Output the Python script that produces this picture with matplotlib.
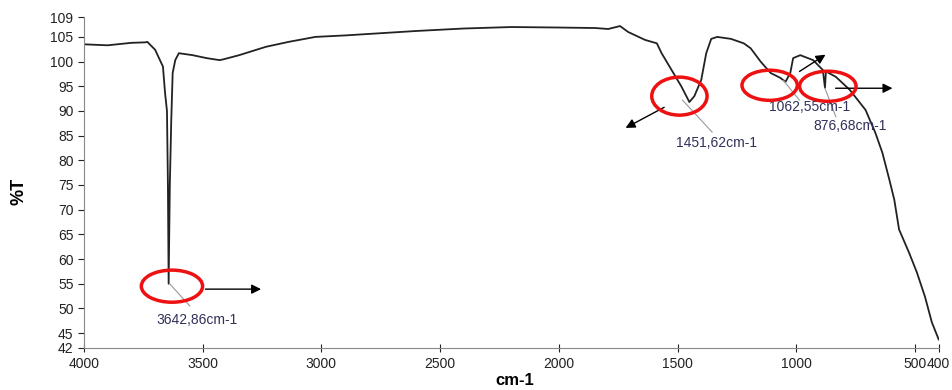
import matplotlib.pyplot as plt
from matplotlib.patches import Ellipse

# ── Spectrum ──────────────────────────────────────────────────────────────────

wavenumber = [4000, 3900, 3800, 3740, 3733, 3700, 3667, 3658, 3650, 3646, 3643,
              3638, 3632, 3626, 3615, 3600, 3542, 3483, 3429, 3417, 3346, 3233,
              3137, 3025, 2900, 2800, 2600, 2400, 2200, 2000, 1846, 1792, 1742,
              1708, 1637, 1587, 1567, 1525, 1483, 1450, 1429, 1400, 1379, 1358,
              1333, 1275, 1221, 1192, 1150, 1108, 1067, 1045, 1025, 1013, 983,
              929, 888, 879, 875, 833, 775, 708, 667, 637, 608, 587, 567, 525,
              492, 458, 429, 400]
transmittance = [103.5, 103.3, 103.8, 103.9, 104.0, 102.4, 99.0, 93.6, 90.0, 75.0, 55.0,
                 75.0, 88.0, 97.7, 100.3, 101.7, 101.3, 100.7, 100.3, 100.4, 101.3, 103.0,
                 104.0, 105.0, 105.3, 105.6, 106.2, 106.7, 107.0, 106.9, 106.8, 106.6, 107.2,
                 106.0, 104.4, 103.7, 101.7, 98.3, 94.9, 91.8, 93.0, 96.3, 101.7, 104.6,
                 105.0, 104.6, 103.7, 102.7, 100.0, 97.7, 96.7, 95.9, 97.7, 100.7, 101.3,
                 100.3, 98.3, 94.7, 98.0, 96.9, 94.3, 90.2, 85.6, 81.5, 76.1, 72.0, 66.0, 61.3,
                 57.3, 52.4, 47.2, 43.7]

x_ticks = [4000, 3500, 3000, 2500, 2000, 1500, 1000, 500, 400]
y_ticks = [42, 45, 50, 55, 60, 65, 70, 75, 80, 85, 90, 95, 100, 105, 109]

# peak markers: (label, ellipse centre, ellipse w/h, arrow tail, arrow head, text pos, leader)
peaks = [
    ("3642,86cm-1", (3629, 54.5), (258, 6.5), (3500, 53.9), (3242, 53.9), (3525, 47.7),
     ((3637, 54.9), (3554, 50.5))),
    ("1451,62cm-1", (1492, 93.0), (233, 7.7), (1546, 91.0), (1729, 86.3), (1337, 83.5),
     ((1479, 92.2), (1354, 85.7))),
    ("1062,55cm-1", (1112, 95.2), (233, 6.1), (996, 97.7), (867, 101.7), (942, 90.8),
     ((1054, 96.2), (987, 92.2))),
    ("876,68cm-1", (867, 95.0), (238, 6.1), (846, 94.6), (583, 94.6), (775, 86.9),
     ((879, 94.6), (833, 88.8))),
]

plt.rcParams['font.family'] = ['Liberation Sans', 'DejaVu Sans']

fig = plt.figure(figsize=(9.53, 3.9), dpi=100)
ax = fig.add_axes([0.088, 0.108, 0.897, 0.848])

ax.plot(wavenumber, transmittance, color='#222222', lw=1.3)

for label, c, (w, h), tail, head, tpos, (l0, l1) in peaks:
    ax.plot([l0[0], l1[0]], [l0[1], l1[1]], color='#999999', lw=0.8)
    ax.add_patch(Ellipse(c, w, h, fill=False, edgecolor='#ee1111', lw=2.5, zorder=5))
    ax.annotate("", xy=head, xytext=tail,
                arrowprops=dict(arrowstyle='-|>', color='black', lw=1.0,
                                mutation_scale=14))
    ax.text(tpos[0], tpos[1], label, ha='center', va='center',
            fontsize=10, color='#30305a')

ax.set_xlim(4000, 400)
ax.set_ylim(42, 109)
ax.set_xticks(x_ticks)
ax.set_yticks(y_ticks)
ax.tick_params(axis='both', labelsize=10, colors='#222222', length=4, width=0.8)
ax.tick_params(axis='x', direction='inout', length=6)

for side in ('top', 'right'):
    ax.spines[side].set_visible(False)
for side in ('left', 'bottom'):
    ax.spines[side].set_color('#888888')

fig.text(0.54, 0.025, "cm-1", ha='center', va='center', fontsize=12, fontweight='bold')
fig.text(0.02, 0.51, "%T", ha='center', va='center', fontsize=13, fontweight='bold',
         rotation=90)

fig.savefig("out.png", dpi=100)
